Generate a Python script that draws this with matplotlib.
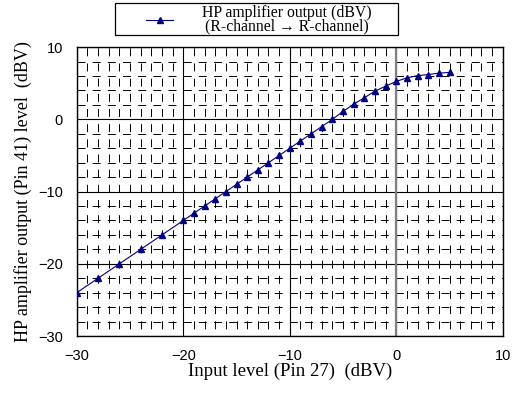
import matplotlib
matplotlib.use('Agg')
import matplotlib.pyplot as plt
from matplotlib.patches import Rectangle
from matplotlib.ticker import MultipleLocator

# input level (dBV) vs HP amp output level (dBV)
input_level = [-30, -28, -26, -24, -22, -20, -19, -18, -17, -16, -15, -14, -13, -12,
               -11, -10, -9, -8, -7, -6, -5, -4, -3, -2, -1, 0, 1, 2, 3, 4, 5]
output_level = [-24, -22, -20, -18, -16, -14, -13, -12, -11, -10, -9, -8, -7, -6,
                -5, -4, -3, -2, -1, 0, 1.1, 2.1, 3.0, 3.9, 4.6, 5.25, 5.75, 6.05, 6.2, 6.4, 6.5]
series_label = 'HP amplifier output (dBV)\n(R-channel \u2192 R-channel)'
xlabel = 'Input level (Pin 27)  (dBV)'
ylabel = 'HP amplifier output (Pin 41) level  (dBV)'

serif = 'Liberation Serif'
sans = 'Liberation Sans'

fig = plt.figure(figsize=(5.12, 3.96), dpi=100)
ax = fig.add_axes([0.150, 0.1515, 0.832, 0.7295])

ax.set_xlim(-30, 10)
ax.set_ylim(-30, 10)
ax.xaxis.set_major_locator(MultipleLocator(10))
ax.yaxis.set_major_locator(MultipleLocator(10))
ax.xaxis.set_minor_locator(MultipleLocator(1))
ax.yaxis.set_minor_locator(MultipleLocator(2))

ax.grid(which='major', color='black', linewidth=0.8)
# dashed minor grid, vertical lines start with a gap at the bottom
ax.xaxis.grid(which='minor', color='black', linewidth=0.7, linestyle=(8.2, (8.2, 7.4)))
ax.yaxis.grid(which='minor', color='black', linewidth=0.7, linestyle=(0, (8.2, 7.4)))
ax.axvline(0, color='gray', linewidth=1.6, zorder=1.5)
ax.set_axisbelow(True)

ax.tick_params(which='both', length=0)
ax.tick_params(axis='x', pad=9)
ax.tick_params(axis='y', pad=10)
for lbl in ax.get_xticklabels() + ax.get_yticklabels():
    lbl.set_fontfamily(sans)
    lbl.set_fontsize(10.5)

for sp in ax.spines.values():
    sp.set_linewidth(1.0)

line, = ax.plot(input_level, output_level, color='navy', linewidth=0.8,
                marker='^', markersize=5, zorder=3)

ax.set_xlabel(xlabel, family=serif, fontsize=13.5, labelpad=0)
ax.set_ylabel(ylabel, family=serif, fontsize=13, labelpad=4)

# legend: content without frame, plus a box of the reference's width
leg = fig.legend([line], [series_label], loc='center',
                 bbox_to_anchor=(0.505, 0.9505), frameon=False,
                 prop={'family': serif, 'size': 11.3},
                 handlelength=1.75, handletextpad=1.8, borderpad=0, borderaxespad=0)
for t in leg.get_texts():
    t.set_multialignment('center')
    t.set_linespacing(0.8)
fig.patches.append(Rectangle((115 / 512, 1 - 35 / 396), 283 / 512, 32 / 396,
                             transform=fig.transFigure, fill=False,
                             edgecolor='black', linewidth=0.9))

fig.savefig('out.png', dpi=100)
